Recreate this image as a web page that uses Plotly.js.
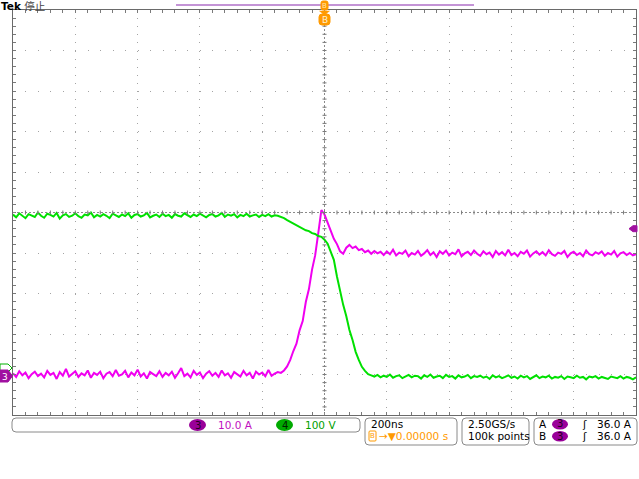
<!DOCTYPE html>
<html><head><meta charset="utf-8">
<script src="https://cdn.plot.ly/plotly-3.0.1.min.js"></script>
<style>html,body{margin:0;padding:0;background:#fff;overflow:hidden}#chart{width:639px;height:479px}</style>
</head><body><div id="chart"></div>
<script>
// ---- data (sample every 10 ns) ----
const t0Ns = -1000, dtNs = 10;
const ch3Amps = [
0.3,-0.6,0.8,-0.2,0.5,-0.9,0.1,0.7,-0.4,0.2,
-0.7,0.9,-0.1,0.4,-1.1,0.6,-0.3,1.4,-0.5,0.2,
0.8,-0.6,0.3,-0.2,1.0,-0.8,0.4,-0.1,0.7,-0.9,
0.2,0.6,-0.4,1.1,-0.3,0.0,0.9,-0.7,0.5,-0.2,
1.2,-0.5,0.3,-1.0,0.6,0.1,-0.4,0.8,-0.6,0.4,
-0.2,0.7,-0.8,0.3,1.6,-0.4,0.2,-0.7,0.9,-0.1,
0.5,-0.9,0.2,0.8,-0.3,0.4,-0.6,1.0,-0.2,0.3,
-0.8,0.6,0.1,-0.5,0.9,-0.2,0.4,-1.0,0.7,0.0,
0.5,-0.4,1.1,-0.3,0.2,0.6,0.4,1.0,2.0,3.6,
5.8,7.6,10.9,13.2,17.9,21.1,25.9,29.4,34.9,40.6,
39.5,37.4,35.6,33.5,32.2,30.4,29.8,31.3,32.0,31.2,
31.6,30.7,31.0,30.2,30.6,29.8,30.5,29.9,30.3,29.5,
30.4,29.7,30.8,29.4,30.1,29.8,30.6,29.2,30.0,29.6,
30.5,29.3,29.9,30.7,29.5,30.2,29.0,30.4,29.8,30.6,
29.4,30.1,29.7,30.9,29.2,29.9,30.3,29.5,30.6,29.8,
29.3,30.4,29.7,30.1,29.0,30.5,29.6,30.2,29.4,30.8,
29.5,30.0,29.2,30.3,29.8,30.6,29.1,29.9,30.4,29.6,
30.2,29.4,30.7,29.7,29.3,30.1,29.8,30.5,29.0,29.9,
30.3,29.5,30.0,29.2,30.6,29.7,29.4,30.2,29.8,30.4,
29.3,30.0,29.6,30.5,29.1,29.9,30.2,29.5,30.0,29.4,
29.7];
const ch4Volts = [
385,378,388,381,376,386,383,379,390,382,
377,387,384,380,389,375,383,386,379,382,
388,381,377,385,383,390,378,384,380,386,
382,376,387,383,379,385,381,388,377,384,
386,380,383,389,378,382,385,379,387,381,
384,377,386,382,380,388,383,379,385,381,
387,382,378,384,386,380,383,389,379,385,
382,386,378,384,381,387,380,383,385,379,
384,381,386,380,383,382,379,376,371,367,
361,359,353,351,346,344,339,337,332,330,
323,313,295,273,232,196,162,134,100,75,
46,26,9,-1,-9,-12,-15,-11,-17,-13,
-16,-10,-18,-14,-12,-19,-15,-11,-17,-13,
-14,-20,-12,-16,-10,-18,-15,-13,-19,-11,
-16,-14,-20,-12,-17,-15,-11,-19,-14,-16,
-13,-18,-15,-21,-12,-17,-14,-19,-16,-12,
-18,-15,-20,-13,-17,-14,-21,-16,-12,-19,
-15,-17,-13,-20,-16,-18,-14,-21,-15,-17,
-19,-13,-18,-16,-22,-15,-17,-14,-20,-16,
-18,-21,-15,-17,-19,-14,-20,-16,-18,-22,
-17];
const timeNs = ch3Amps.map((_, i) => t0Ns + i * dtNs);
const timeRange = [-1000, 1000];   // 200 ns/div
const ch3Range = [-10, 90];        // 10 A/div
const ch4Range = [-110, 890];      // 100 V/div
const trigLevelA = 36.0;
const ch3Label = '10.0 A', ch4Label = '100 V';
const timebaseLabel = '200ns', trigPosLabel = '0.00000 s';
const sampleLabels = ['2.50GS/s', '100k points'];
const trigRows = [['A', '36.0 A'], ['B', '36.0 A']];

// ---- layout helpers (image pixels -> paper) ----
const L = 13, T = 10, W = 623, H = 405;
const px = x => (x - L) / W;
const py = y => (T + H - y) / H;
const FONT = 'DejaVu Sans, Noto Sans CJK SC, sans-serif';
const MAG = '#f000f0', GRN = '#00e000', ORG = '#ff9a00';

function rr(x0, y0, x1, y1, r) {
  const X = v => (v - L).toFixed(1), Y = v => (T + H - v).toFixed(1);
  return `M${X(x0+r)},${Y(y0)} L${X(x1-r)},${Y(y0)} Q${X(x1)},${Y(y0)} ${X(x1)},${Y(y0+r)} ` +
         `L${X(x1)},${Y(y1-r)} Q${X(x1)},${Y(y1)} ${X(x1-r)},${Y(y1)} L${X(x0+r)},${Y(y1)} ` +
         `Q${X(x0)},${Y(y1)} ${X(x0)},${Y(y1-r)} L${X(x0)},${Y(y0+r)} Q${X(x0)},${Y(y0)} ${X(x0+r)},${Y(y0)} Z`;
}
function pixPath(path, fill, line, lw) {
  return {type:'path', xref:'paper', yref:'paper', xsizemode:'pixel', ysizemode:'pixel',
          xanchor:0, yanchor:0, path:path, fillcolor:fill, line:{color:line, width:lw}, layer:'above'};
}
function poly(pts) {
  return 'M' + pts.map(p => `${(p[0]-L).toFixed(1)},${(T+H-p[1]).toFixed(1)}`).join(' L') + ' Z';
}
function ell(x0, y0, x1, y1, fill) {
  return {type:'circle', xref:'paper', yref:'paper', x0:px(x0), x1:px(x1), y0:py(y1), y1:py(y0),
          fillcolor:fill, line:{width:0}, layer:'above'};
}
function txt(x, y, s, color, size, anchor, extra) {
  return Object.assign({xref:'paper', yref:'paper', x:px(x), y:py(y), text:s, showarrow:false,
    xanchor:anchor || 'left', yanchor:'middle', font:{family:FONT, size:size || 10, color:color || '#000'}}, extra || {});
}

const shapes = [];
const annotations = [];
// center cross
shapes.push({type:'line', xref:'paper', yref:'paper', x0:0, x1:1, y0:0.5, y1:0.5, line:{color:'#8a8a8a', width:1, dash:'2px,2px'}});
shapes.push({type:'line', xref:'paper', yref:'paper', x0:0.5, x1:0.5, y0:0, y1:1, line:{color:'#8a8a8a', width:1, dash:'2px,2px'}});
for (let k = -24; k <= 24; k++) {
  shapes.push({type:'line', xref:'x', yref:'paper', ysizemode:'pixel', yanchor:0.5, x0:k*40, x1:k*40, y0:-2, y1:2, line:{color:'#7a7a7a', width:1}});
}
for (let k = 1; k < 50; k++) {
  const a = ch3Range[0] + k * 2;
  shapes.push({type:'line', xref:'paper', yref:'y', xsizemode:'pixel', xanchor:0.5, x0:-2, x1:2, y0:a, y1:a, line:{color:'#7a7a7a', width:1}});
}
// record view bar at top
shapes.push({type:'line', xref:'paper', yref:'paper', x0:px(176), x1:px(474), y0:py(5), y1:py(5), line:{color:'#b070c8', width:1.5}});
// top trigger position markers
shapes.push(pixPath(rr(321, 1, 328, 10, 2), ORG, ORG, 1));
shapes.push(pixPath(poly([[319.5,11],[329.5,11],[324.5,15]]), ORG, ORG, 0.5));
shapes.push(pixPath(rr(319, 14, 330, 25, 3), ORG, ORG, 1));
annotations.push(txt(324.5, 6, 'B', '#ffe6b0', 7, 'center'));
annotations.push(txt(324.6, 19.5, 'B', '#fff0d0', 9, 'center'));
// left channel markers
shapes.push(pixPath(poly([[0,364],[8,364],[12,368],[8,372],[0,372]]), '#ffffff', '#00b000', 1));
shapes.push(pixPath(poly([[0,370],[8,370],[12.5,376],[8,382],[0,382]]), '#a010a0', '#a010a0', 1));
annotations.push(txt(4.5, 376.5, '3', '#ffffff', 9, 'center'));
// right trigger level marker
shapes.push({type:'path', xref:'paper', yref:'y', xsizemode:'pixel', ysizemode:'pixel', xanchor:1, yanchor:trigLevelA,
  path:'M-7,0 L-3,3 L1,3 L1,-3 L-3,-3 Z', fillcolor:'#a010a0', line:{color:'#a010a0', width:1}, layer:'above'});
// status boxes
shapes.push(pixPath(rr(12, 418, 360, 432, 4), '#ffffff', '#8a8a8a', 1));
shapes.push(pixPath(rr(365, 418, 457, 445, 4), '#ffffff', '#8a8a8a', 1));
shapes.push(pixPath(rr(462, 418, 529, 445, 4), '#ffffff', '#8a8a8a', 1));
shapes.push(pixPath(rr(534, 418, 637, 445, 4), '#ffffff', '#8a8a8a', 1));
shapes.push(ell(189, 419, 206, 431, '#990099'));
shapes.push(ell(276, 419, 293, 431, '#00aa00'));
shapes.push(ell(552, 419, 568, 429.5, '#990099'));
shapes.push(ell(552, 431, 568, 441.5, '#990099'));
shapes.push(pixPath(rr(369, 431, 376, 441, 1), '#ffffff', ORG, 1));

annotations.push(txt(0, 6, '<b>Tek</b> <span style="color:#444">停止</span>', '#000', 10.5, 'left', {borderpad:0}));
annotations.push(txt(197.5, 425, '3', '#220022', 10, 'center'));
annotations.push(txt(216, 425, ch3Label, '#c010c0', 10.5));
annotations.push(txt(284.5, 425, '4', '#002200', 10, 'center'));
annotations.push(txt(303, 425, ch4Label, '#00a000', 10.5));
annotations.push(txt(369, 424, timebaseLabel, '#000', 10.5));
annotations.push(txt(372.5, 436, 'B', ORG, 7, 'center'));
annotations.push(txt(377, 436, '→▼' + trigPosLabel, ORG, 10.5));
annotations.push(txt(466, 424, sampleLabels[0], '#000', 10.5));
annotations.push(txt(466, 436, sampleLabels[1], '#000', 10.5));
trigRows.forEach((r, i) => {
  const y = 424 + i * 12;
  annotations.push(txt(537, y, r[0], '#000', 10.5));
  annotations.push(txt(560, y, '3', '#220022', 10, 'center'));
  annotations.push(txt(584.5, y, 'ʃ', '#000', 10.5, 'center'));
  annotations.push(txt(634, y, r[1], '#000', 10.5, 'right'));
});

const traces = [
  {x: timeNs, y: ch4Volts, yaxis:'y2', type:'scatter', mode:'lines', line:{color:GRN, width:2}, hoverinfo:'skip'},
  {x: timeNs, y: ch3Amps, yaxis:'y', type:'scatter', mode:'lines', line:{color:MAG, width:2}, hoverinfo:'skip'}
];

const frame = {showline:true, linecolor:'#6a6a6a', linewidth:1, mirror:'ticks', ticks:'inside', ticklen:3,
  tickcolor:'#7a7a7a', tickwidth:1, showticklabels:false, zeroline:false, showgrid:true, gridcolor:'#a4a4a4', gridwidth:1};

const layout = {
  width:639, height:479, margin:{l:L, r:639-L-W, t:T, b:479-T-H, pad:0},
  paper_bgcolor:'#ffffff', plot_bgcolor:'#ffffff', showlegend:false,
  xaxis: Object.assign({}, frame, {range:timeRange, tick0:0, dtick:200, griddash:'1px,7.1px',
    minor:{dtick:40, tick0:0, ticks:'inside', ticklen:3, tickcolor:'#7a7a7a', showgrid:false}}),
  yaxis: Object.assign({}, frame, {range:ch3Range, tick0:0, dtick:10, griddash:'1px,11.46px',
    minor:{dtick:2, tick0:0, ticks:'inside', ticklen:3, tickcolor:'#7a7a7a', showgrid:false}}),
  yaxis2: {range:ch4Range, overlaying:'y', visible:false, showgrid:false, zeroline:false},
  shapes: shapes, annotations: annotations
};
Plotly.newPlot('chart', traces, layout, {staticPlot:true, displayModeBar:false});
</script></body></html>
